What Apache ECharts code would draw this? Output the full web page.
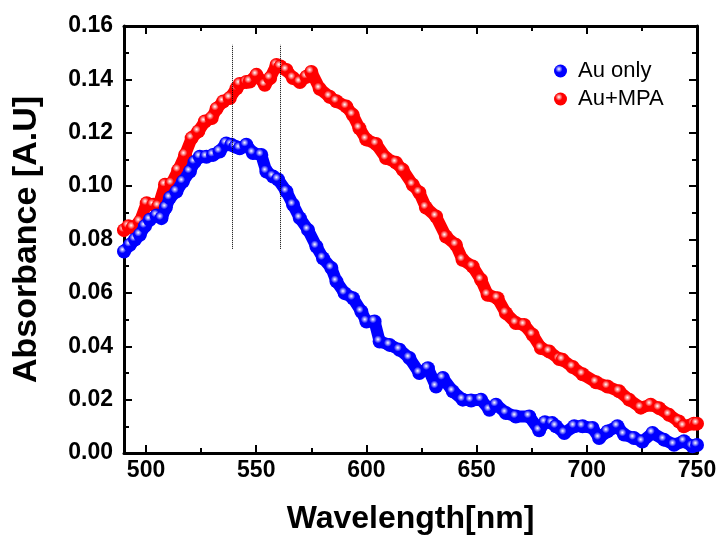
<!DOCTYPE html>
<html>
<head>
<meta charset="utf-8">
<script src="https://cdn.jsdelivr.net/npm/echarts@6/dist/echarts.min.js"></script>
<style>
html,body{margin:0;padding:0;background:#fff;}
#chart{width:720px;height:537px;}
</style>
</head>
<body>
<div id="chart"></div>
<script>
// ---- Data ----
const auOnlyNm = [490,492.7,495,497.2,499.5,501.7,504.8,507,509,510.8,513.8,516.7,519.9,522,524.4,527.4,530.4,533.4,536.4,538.7,540.5,542.5,545.5,548.5,552.3,554.6,557.6,559.9,563.7,566.7,569.8,573.5,577.3,580.3,584.1,586.4,590.1,593.9,597.7,600,603.7,606,610.5,615,619.5,624,627.9,631.6,634.7,639.2,643.7,647.5,652,655.8,658.8,663.3,667.8,673.9,678.4,681,684.3,686,689.8,694.3,698.1,702.6,705.6,709.4,713.9,716.9,721.4,725.2,729.8,735,739.6,744.1,747.9,750];
const auOnlyAbs = [0.0755,0.078,0.080,0.0818,0.085,0.0874,0.089,0.088,0.092,0.0956,0.098,0.1017,0.1055,0.109,0.111,0.111,0.1117,0.113,0.116,0.1155,0.1148,0.1142,0.1155,0.1124,0.1117,0.1055,0.1036,0.1025,0.098,0.093,0.088,0.0836,0.0774,0.073,0.0693,0.0643,0.0599,0.058,0.053,0.0493,0.0493,0.0418,0.0405,0.0387,0.0356,0.030,0.0318,0.0249,0.0281,0.0231,0.020,0.0197,0.020,0.0162,0.0181,0.015,0.0137,0.0137,0.0085,0.0115,0.0112,0.010,0.0075,0.010,0.010,0.0094,0.0056,0.0081,0.010,0.0069,0.0056,0.0043,0.0075,0.005,0.0031,0.0044,0.0025,0.003];

const auMpaNm = [490,492,494,497.2,500.3,503.3,505.6,508.6,511.6,514.6,517.7,520.7,523.7,526.7,529.8,532,535,538,541.1,542.5,545.5,547.1,550.1,553.9,556.3,559.2,561,563.7,566.7,569.8,572.8,575,578.8,583.3,586.4,590.9,593.8,596.8,599.9,604.4,608.9,613.4,616.5,621,624,627,631.6,636.1,640.6,643.6,648.2,652,655,659.5,663.3,667.8,671.6,675.4,679.2,683,687.5,689,693.6,698.1,704.2,709.4,714.7,719.2,724.5,729,732.8,737.3,741.8,744,748.6,750];
const auMpaAbs = [0.0835,0.085,0.0845,0.0867,0.0936,0.093,0.0925,0.1005,0.101,0.106,0.1117,0.118,0.1205,0.1242,0.1255,0.129,0.1317,0.133,0.1367,0.1383,0.139,0.1392,0.1417,0.138,0.1405,0.1454,0.1448,0.1435,0.1405,0.139,0.141,0.1428,0.1365,0.1335,0.1318,0.1298,0.1267,0.1217,0.1175,0.1158,0.1105,0.1088,0.1061,0.1005,0.0976,0.0920,0.0886,0.0811,0.0780,0.0724,0.0699,0.0649,0.0593,0.058,0.0524,0.0487,0.048,0.0443,0.0393,0.038,0.0352,0.0349,0.0322,0.0295,0.0265,0.0249,0.0231,0.020,0.0170,0.0181,0.0168,0.0143,0.0118,0.0100,0.0110,0.011];

const seriesNames = ['Au only', 'Au+MPA'];
const xMajorTicks = [500, 550, 600, 650, 700, 750];
const xMinorTicks = [525, 575, 625, 675, 725];
const peakMarkersNm = [539.3, 560.9];
const peakMarkerRange = [0.0765, 0.153];

// ---- Chart ----
const FONT = '"Liberation Sans", Arial, sans-serif';
const chart = echarts.init(document.getElementById('chart'), null, {renderer: 'canvas'});

function sphere(c) {
  return {
    type: 'radial', x: 0.38, y: 0.35, r: 0.7,
    colorStops: [
      {offset: 0, color: '#ffffff'},
      {offset: 0.4, color: c},
      {offset: 1, color: c}
    ]
  };
}
const BLUE = '#0000ff';
const RED = '#ff0000';

const frameLine = {show: true, lineStyle: {color: '#000', width: 3}};
const xRange = {min: 490, max: 750};

const opt = {
  backgroundColor: '#fff',
  animation: false,
  grid: {left: 124, right: 23, top: 26, bottom: 84, containLabel: false, outerBoundsMode: 'none'},
  legend: {
    orient: 'vertical', left: 549, top: 55,
    icon: 'circle', itemWidth: 25, itemHeight: 13, itemGap: 6,
    textStyle: {fontSize: 22, fontFamily: FONT, color: '#000', width: 108, align: 'center'},
    data: seriesNames
  },
  xAxis: [
    {
      type: 'value', position: 'bottom', ...xRange,
      name: 'Wavelength[nm]', nameLocation: 'middle', nameGap: 50,
      nameTextStyle: {fontSize: 32, fontWeight: 'bold', fontFamily: FONT, color: '#000'},
      axisLine: frameLine,
      axisTick: {show: true, inside: true, length: 8, lineStyle: {color: '#000', width: 2}, customValues: xMajorTicks},
      axisLabel: {show: true, customValues: xMajorTicks, fontSize: 23, fontWeight: 'bold', fontFamily: FONT, color: '#000', margin: 6},
      splitLine: {show: false}
    },
    {
      type: 'value', position: 'bottom', ...xRange,
      axisLine: {show: false},
      axisTick: {show: true, inside: true, length: 5, lineStyle: {color: '#000', width: 2}, customValues: xMinorTicks},
      axisLabel: {show: false}, splitLine: {show: false}
    },
    {
      type: 'value', position: 'top', ...xRange,
      axisLine: frameLine,
      axisTick: {show: true, inside: true, length: 8, lineStyle: {color: '#000', width: 2}, customValues: xMajorTicks},
      axisLabel: {show: false}, splitLine: {show: false}
    },
    {
      type: 'value', position: 'top', ...xRange,
      axisLine: {show: false},
      axisTick: {show: true, inside: true, length: 5, lineStyle: {color: '#000', width: 2}, customValues: xMinorTicks},
      axisLabel: {show: false}, splitLine: {show: false}
    }
  ],
  yAxis: [
    {
      type: 'value', position: 'left', min: 0, max: 0.16, interval: 0.02,
      name: 'Absorbance [A.U]', nameLocation: 'middle', nameGap: 80,
      nameTextStyle: {fontSize: 34, fontWeight: 'bold', fontFamily: FONT, color: '#000'},
      axisLine: frameLine,
      axisTick: {show: true, inside: true, length: 8, lineStyle: {color: '#000', width: 2}},
      minorTick: {show: true, splitNumber: 2, length: 5, lineStyle: {color: '#000', width: 2}},
      axisLabel: {fontSize: 23, fontWeight: 'bold', fontFamily: FONT, color: '#000', margin: 11,
        formatter: v => v.toFixed(2)},
      splitLine: {show: false}, minorSplitLine: {show: false}
    },
    {
      type: 'value', position: 'right', min: 0, max: 0.16, interval: 0.02,
      axisLine: frameLine,
      axisTick: {show: true, inside: true, length: 8, lineStyle: {color: '#000', width: 2}},
      minorTick: {show: true, splitNumber: 2, length: 5, lineStyle: {color: '#000', width: 2}},
      axisLabel: {show: false},
      splitLine: {show: false}, minorSplitLine: {show: false}
    }
  ],
  series: [
    {
      name: seriesNames[0], type: 'line', xAxisIndex: 0, yAxisIndex: 0,
      data: auOnlyNm.map((x, i) => [x, auOnlyAbs[i]]),
      symbol: 'circle', symbolSize: 14, showSymbol: true,
      lineStyle: {color: BLUE, width: 12},
      itemStyle: {color: sphere(BLUE), borderWidth: 0},
      z: 3
    },
    {
      name: seriesNames[1], type: 'line', xAxisIndex: 0, yAxisIndex: 0,
      data: auMpaNm.map((x, i) => [x, auMpaAbs[i]]),
      symbol: 'circle', symbolSize: 14, showSymbol: true,
      lineStyle: {color: RED, width: 12},
      itemStyle: {color: sphere(RED), borderWidth: 0},
      z: 2,
      markLine: {
        silent: true, symbol: 'none', label: {show: false},
        lineStyle: {color: '#000', type: 'dotted', width: 1},
        data: peakMarkersNm.map(nm => [
          {coord: [nm, peakMarkerRange[0]]},
          {coord: [nm, peakMarkerRange[1]]}
        ])
      }
    }
  ]
};
chart.setOption(opt);
</script>
</body>
</html>
